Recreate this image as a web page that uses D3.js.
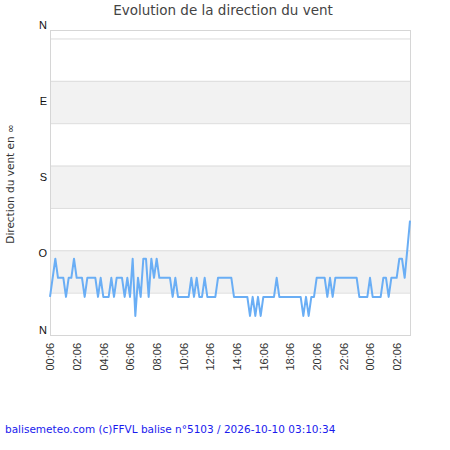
<!DOCTYPE html>
<html lang="fr">
<head>
<meta charset="utf-8">
<title>Evolution de la direction du vent</title>
<script src="https://cdn.jsdelivr.net/npm/d3@7"></script>
<style>
  body { margin:0; background:#fff; }
  svg { font-family:"DejaVu Sans", sans-serif; display:block; }
</style>
</head>
<body>
<script>
// directions du vent (degres), un releve toutes les 12 min depuis 00:06
var directions = [
  45, 67.5, 90, 67.5, 67.5, 67.5, 45, 67.5, 67.5, 90,
  67.5, 67.5, 67.5, 45, 67.5, 67.5, 67.5, 67.5, 45, 67.5,
  45, 45, 45, 67.5, 45, 67.5, 67.5, 67.5, 45, 67.5,
  45, 90, 22.5, 67.5, 45, 90, 90, 45, 90, 67.5,
  90, 67.5, 67.5, 67.5, 67.5, 67.5, 45, 67.5, 45, 45,
  45, 45, 45, 67.5, 45, 67.5, 45, 45, 67.5, 45,
  45, 45, 45, 67.5, 67.5, 67.5, 67.5, 67.5, 67.5, 45,
  45, 45, 45, 45, 45, 22.5, 45, 22.5, 45, 22.5,
  45, 45, 45, 45, 45, 67.5, 45, 45, 45, 45,
  45, 45, 45, 45, 45, 22.5, 45, 22.5, 45, 45,
  67.5, 67.5, 67.5, 67.5, 45, 67.5, 45, 67.5, 67.5, 67.5,
  67.5, 67.5, 67.5, 67.5, 67.5, 67.5, 45, 45, 45, 45,
  67.5, 45, 45, 45, 45, 67.5, 67.5, 45, 67.5, 67.5,
  67.5, 90, 90, 67.5, 101, 135
];
var startTime = new Date(2026, 9, 9, 0, 6);
var endTime = new Date(2026, 9, 10, 3, 6);
var stepMinutes = 12;

var tickLabels = ["00:06","02:06","04:06","06:06","08:06","10:06","12:06",
                  "14:06","16:06","18:06","20:06","22:06","00:06","02:06"];
var dirValues = [0, 90, 180, 270, 360];
var dirLabels = ["N", "O", "S", "E", "N"];
var gridValues = [50, 100, 150, 200, 250, 300, 350];
var bands = [[50, 100], [150, 200], [250, 300]];

var title = "Evolution de la direction du vent";
var yTitle = "Direction du vent en \u221e";
var footer = "balisemeteo.com (c)FFVL balise n\u00b05103 / 2026-10-10 03:10:34";

var width = 450, height = 450;
var plotL = 50, plotR = 410, plotT = 30, plotB = 335;

var svg = d3.select("body").append("svg")
  .attr("width", width)
  .attr("height", height);

var x = d3.scaleTime().domain([startTime, endTime]).range([plotL, plotR]);
var y = d3.scaleLinear().domain([0, 360]).range([plotB, plotT]);

var points = directions.map(function(d, i){
  return { t: new Date(startTime.getTime() + i*stepMinutes*60000), v: d };
});

// bandes grises
svg.selectAll("rect.band")
  .data(bands)
  .enter()
  .append("rect")
  .attr("class", "band")
  .attr("x", plotL)
  .attr("width", plotR - plotL)
  .attr("y", function(d){ return y(d[1]); })
  .attr("height", function(d){ return y(d[0]) - y(d[1]); })
  .attr("fill", "#f2f2f2");

// grille
svg.append("g")
  .attr("transform", "translate(" + plotL + ",0)")
  .call(d3.axisLeft(y).tickValues(gridValues).tickSize(-(plotR - plotL)).tickFormat(""))
  .call(function(g){
    g.select(".domain").remove();
    g.selectAll("line").attr("stroke", "#dcdcdc");
  });

// cadre
svg.append("rect")
  .attr("x", plotL + 0.5)
  .attr("y", plotT + 0.5)
  .attr("width", plotR - plotL)
  .attr("height", plotB - plotT)
  .attr("fill", "none")
  .attr("stroke", "#d6d6d6");

// courbe
var line = d3.line()
  .x(function(d){ return x(d.t); })
  .y(function(d){ return y(d.v); });

svg.append("path")
  .datum(points)
  .attr("d", line)
  .attr("fill", "none")
  .attr("stroke", "#6aaef5")
  .attr("stroke-width", 2)
  .attr("stroke-linejoin", "round");

// axe des directions
svg.append("g")
  .attr("transform", "translate(" + (plotL - 3) + ",0)")
  .call(d3.axisLeft(y).tickValues(dirValues).tickSize(0).tickPadding(0)
    .tickFormat(function(d, i){ return dirLabels[i]; }))
  .call(function(g){
    g.select(".domain").remove();
    g.selectAll("text")
      .attr("dy", -2)
      .attr("fill", "#111")
      .style("font-size", "11px");
  });

// axe du temps
var tickTimes = tickLabels.map(function(d, i){
  return new Date(startTime.getTime() + i*2*3600000);
});

svg.append("g")
  .attr("transform", "translate(0," + plotB + ")")
  .call(d3.axisBottom(x).tickValues(tickTimes).tickSize(0)
    .tickFormat(function(d, i){ return tickLabels[i]; }))
  .call(function(g){
    g.select(".domain").remove();
    g.selectAll("text")
      .attr("transform", "rotate(-90)")
      .attr("text-anchor", "end")
      .attr("x", -8)
      .attr("y", 0)
      .attr("dy", "0.35em")
      .attr("fill", "#333")
      .style("font-size", "11px");
  });

// titres
svg.append("text")
  .attr("x", 223)
  .attr("y", 15)
  .attr("text-anchor", "middle")
  .attr("fill", "#444")
  .style("font-size", "13.5px")
  .text(title);

svg.append("text")
  .attr("transform", "translate(14,184) rotate(-90)")
  .attr("text-anchor", "middle")
  .attr("fill", "#333")
  .style("font-size", "10.5px")
  .text(yTitle);

svg.append("text")
  .attr("x", 5)
  .attr("y", 433)
  .attr("fill", "#1a1aee")
  .style("font-size", "10.5px")
  .text(footer);
</script>
</body>
</html>
